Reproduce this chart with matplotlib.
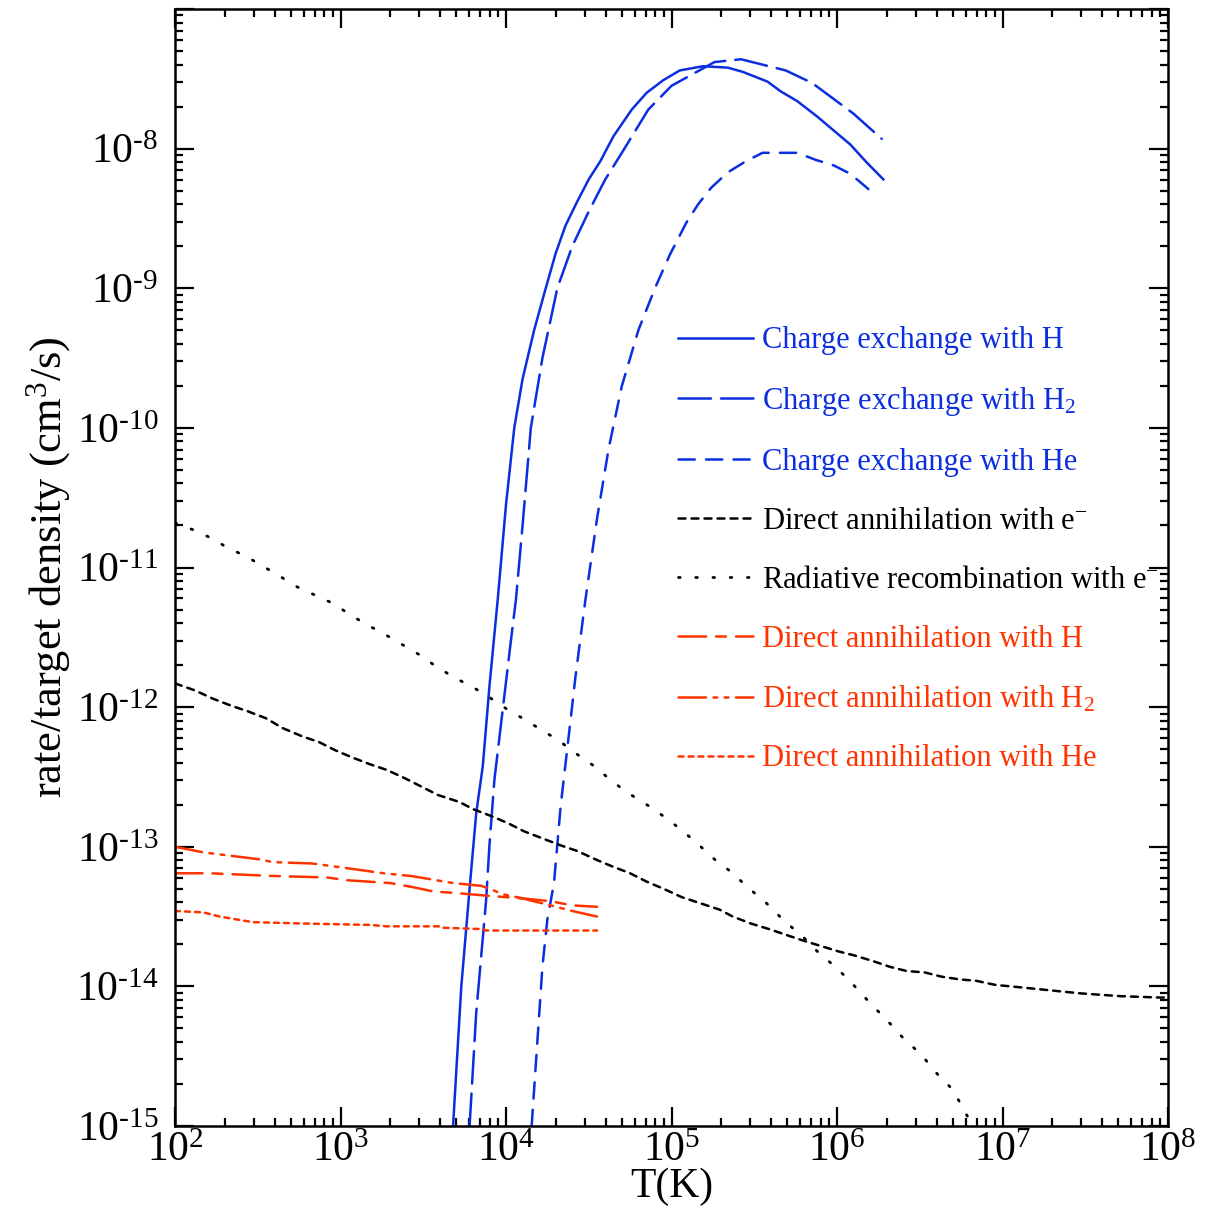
import numpy as np
import matplotlib
matplotlib.use('Agg')
import matplotlib.pyplot as plt
from matplotlib.ticker import LogLocator, FuncFormatter, NullFormatter

plt.rcParams['font.family'] = ['Liberation Serif', 'DejaVu Serif']
plt.rcParams['mathtext.fontset'] = 'custom'
plt.rcParams['mathtext.rm'] = 'Liberation Serif'
plt.rcParams['mathtext.it'] = 'Liberation Serif:italic'

blue = '#0a2ee0'
red = '#ff3300'

# values, as log10(T) and log10(rate)
cx_h_logT = [3.68, 3.73, 3.78, 3.82, 3.86, 3.90, 3.95, 4.00, 4.05, 4.10, 4.17, 4.24, 4.30, 4.36,
             4.43, 4.50, 4.57, 4.65, 4.76, 4.85, 4.95, 5.05, 5.19, 5.34, 5.43, 5.58, 5.66, 5.76,
             5.88, 5.98, 6.08, 6.18, 6.28]
cx_h_logR = [-15.0, -14.0, -13.3, -12.76, -12.42, -11.85, -11.23, -10.55, -10.0, -9.65, -9.3,
             -9.0, -8.75, -8.55, -8.38, -8.22, -8.09, -7.91, -7.72, -7.60, -7.51, -7.44, -7.41,
             -7.42, -7.45, -7.52, -7.59, -7.66, -7.77, -7.87, -7.97, -8.10, -8.22]

cx_h2_logT = [3.78, 3.82, 3.88, 3.90, 3.93, 3.98, 4.03, 4.06, 4.10, 4.15, 4.22, 4.31, 4.40, 4.50,
              4.60, 4.70, 4.86, 5.00, 5.26, 5.42, 5.69, 5.85, 6.10, 6.27]
cx_h2_logR = [-15.0, -14.19, -13.38, -12.99, -12.52, -12.02, -11.52, -11.23, -10.7, -10.0, -9.5,
              -9.0, -8.70, -8.45, -8.22, -8.03, -7.72, -7.55, -7.38, -7.36, -7.44, -7.53, -7.75,
              -7.93]

cx_he_logT = [4.155, 4.22, 4.25, 4.29, 4.33, 4.37, 4.42, 4.48, 4.55, 4.62, 4.70, 4.80, 4.90, 4.99,
              5.09, 5.16, 5.24, 5.34, 5.45, 5.55, 5.66, 5.76, 5.87, 5.98, 6.08, 6.19]
cx_he_logR = [-15.0, -13.86, -13.52, -13.26, -12.71, -12.30, -11.78, -11.23, -10.65, -10.15,
              -9.70, -9.30, -9.00, -8.76, -8.53, -8.40, -8.28, -8.17, -8.09, -8.03, -8.03, -8.03,
              -8.08, -8.12, -8.18, -8.29]

da_e_logT = [2.0, 2.12, 2.23, 2.34, 2.44, 2.55, 2.65, 2.77, 2.87, 2.97, 3.07, 3.18, 3.28, 3.39,
             3.49, 3.59, 3.72, 3.80, 3.91, 4.01, 4.11, 4.22, 4.33, 4.43, 4.54, 4.64, 4.75, 4.85,
             4.95, 5.06, 5.29, 5.37, 5.48, 5.59, 5.69, 5.79, 5.90, 6.01, 6.11, 6.22, 6.32, 6.42,
             6.53, 6.63, 6.74, 6.84, 6.96, 7.05, 7.47, 7.71, 7.95, 8.0]
da_e_logR = [-11.83, -11.88, -11.94, -11.99, -12.03, -12.08, -12.15, -12.21, -12.25, -12.31,
             -12.36, -12.41, -12.45, -12.51, -12.57, -12.63, -12.68, -12.73, -12.78, -12.83,
             -12.89, -12.94, -12.99, -13.03, -13.09, -13.14, -13.19, -13.25, -13.30, -13.36,
             -13.45, -13.50, -13.55, -13.59, -13.63, -13.67, -13.71, -13.75, -13.78, -13.82,
             -13.86, -13.89, -13.90, -13.93, -13.95, -13.96, -13.99, -14.0, -14.05, -14.07,
             -14.08, -14.08]

rr_e_logT = [2.0, 2.11, 2.22, 2.32, 2.43, 2.53, 2.63, 2.74, 2.85, 2.96, 3.06, 3.16, 3.27, 3.37,
             3.47, 3.58, 3.69, 3.79, 3.90, 4.00, 4.10, 4.21, 4.32, 4.42, 4.53, 4.63, 4.73, 4.84,
             4.95, 5.05, 5.15, 5.26, 5.36, 5.47, 5.57, 5.68, 5.79, 5.89, 6.00, 6.10, 6.20, 6.30,
             6.40, 6.51, 6.60, 6.70, 6.82]
rr_e_logR = [-10.68, -10.73, -10.79, -10.86, -10.92, -10.99, -11.06, -11.14, -11.20, -11.26,
             -11.34, -11.41, -11.48, -11.55, -11.62, -11.71, -11.79, -11.85, -11.93, -12.01,
             -12.08, -12.16, -12.24, -12.33, -12.42, -12.52, -12.61, -12.69, -12.78, -12.87,
             -12.97, -13.09, -13.18, -13.30, -13.40, -13.53, -13.64, -13.76, -13.87, -13.99,
             -14.12, -14.24, -14.37, -14.49, -14.62, -14.74, -15.0]

da_h_logT = [2.0, 2.21, 2.61, 2.92, 3.04, 3.30, 3.44, 3.56, 3.68, 3.88, 4.10, 4.27, 4.40, 4.55]
da_h_logR = [-13.19, -13.19, -13.21, -13.22, -13.24, -13.26, -13.29, -13.32, -13.33, -13.35,
             -13.37, -13.39, -13.42, -13.43]

da_h2_logT = [2.0, 2.17, 2.51, 2.59, 2.83, 3.02, 3.26, 3.43, 3.68, 3.85, 3.90, 3.98, 4.10, 4.27,
              4.40, 4.55]
da_h2_logR = [-13.0, -13.04, -13.09, -13.11, -13.12, -13.15, -13.19, -13.21, -13.26, -13.28,
              -13.30, -13.34, -13.37, -13.42, -13.46, -13.50]

da_he_logT = [2.0, 2.17, 2.27, 2.47, 2.78, 3.18, 3.28, 3.60, 3.62, 3.86, 3.88, 4.55]
da_he_logR = [-13.46, -13.47, -13.50, -13.54, -13.55, -13.56, -13.57, -13.57, -13.58, -13.59,
              -13.60, -13.60]

series = [
    (cx_h_logT, cx_h_logR, blue, '-', 1.8, 'Charge exchange with H'),
    (cx_h2_logT, cx_h2_logR, blue, (0, (13, 4)), 1.8, 'Charge exchange with H$_2$'),
    (cx_he_logT, cx_he_logR, blue, (0, (6.5, 4.5)), 1.8, 'Charge exchange with He'),
    (da_e_logT, da_e_logR, 'black', (0, (2.8, 2.4)), 1.8, 'Direct annihilation with e$^{-}$'),
    (rr_e_logT, rr_e_logR, 'black', (0, (0.6, 5.6)), 2.0, 'Radiative recombination with e$^{-}$'),
    (da_h_logT, da_h_logR, red, (0, (11, 4, 4, 4)), 1.8, 'Direct annihilation with H'),
    (da_h2_logT, da_h2_logR, red, (0, (11, 3, 1.5, 3, 1.5, 3)), 1.8,
     'Direct annihilation with H$_2$'),
    (da_he_logT, da_he_logR, red, (0, (2.0, 2.0)), 1.8, 'Direct annihilation with He'),
]

fig = plt.figure(figsize=(12.15, 12.06), dpi=100)
ax = fig.add_axes([175 / 1215, 80 / 1206, 993 / 1215, 1117 / 1206])

for lt, lr, c, ls, lw, lab in series:
    ax.plot(10 ** np.array(lt), 10 ** np.array(lr), color=c, linestyle=ls, linewidth=lw,
            dash_capstyle='round', label=lab)

ax.set_xscale('log')
ax.set_yscale('log')
ax.set_xlim(1e2, 1e8)
ax.set_ylim(1e-15, 1e-7)


def pow_fmt(x, pos):
    e = int(round(np.log10(x)))
    if e == -7:
        return ''
    if e < 0:
        return r'$\mathregular{10^{\text{-}%d}}$' % (-e)
    return r'$\mathregular{10^{%d}}$' % e


ax.xaxis.set_major_locator(LogLocator(base=10, numticks=20))
ax.yaxis.set_major_locator(LogLocator(base=10, numticks=20))
ax.xaxis.set_minor_locator(LogLocator(base=10, subs=np.arange(2, 10), numticks=20))
ax.yaxis.set_minor_locator(LogLocator(base=10, subs=np.arange(2, 10), numticks=20))
ax.xaxis.set_major_formatter(FuncFormatter(pow_fmt))
ax.yaxis.set_major_formatter(FuncFormatter(pow_fmt))
ax.xaxis.set_minor_formatter(NullFormatter())
ax.yaxis.set_minor_formatter(NullFormatter())

ax.tick_params(which='both', direction='in', top=True, right=True, width=1.6)
ax.tick_params(which='major', length=14, labelsize=30, pad=4)
ax.tick_params(axis='y', which='major', pad=12)
ax.tick_params(which='minor', length=6)
for s in ax.spines.values():
    s.set_linewidth(1.8)

ax.set_xlabel('T(K)', fontsize=30, labelpad=-2)
ax.set_ylabel('rate/target density (cm$^{3}$/s)', fontsize=32, labelpad=2)

leg = ax.legend(loc='upper left', bbox_to_anchor=(0.507, 0.716), frameon=False, fontsize=22,
                handlelength=2.45, handletextpad=0.3, labelspacing=0.98, borderpad=0,
                borderaxespad=0, labelcolor='linecolor')

fig.savefig('out.png', dpi=100)
